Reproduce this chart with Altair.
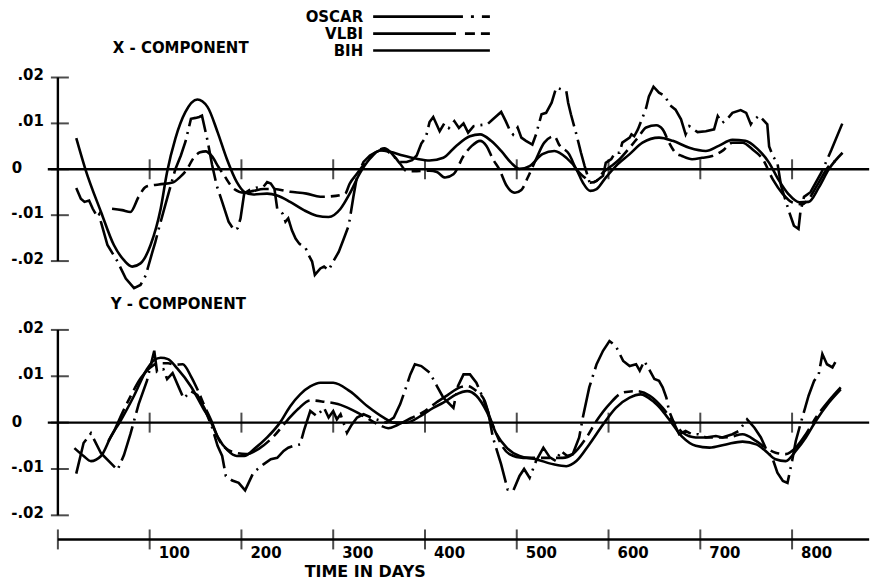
import altair as alt
import pandas as pd

# ---------------- data (day, value) ----------------
x_oscar = [(20, -0.0041), (25, -0.0064), (29, -0.0071), (34, -0.0068), (38, -0.0086), (43, -0.0104),
           (45, -0.0098), (47, -0.0115), (54, -0.0165), (65, -0.0201), (74, -0.0238), (83, -0.0259),
           (90, -0.0252), (96, -0.0230), (98, -0.0215), (103, -0.0180), (106, -0.0160), (110, -0.0129),
           (114, -0.0100), (117, -0.0078), (123, -0.0035), (128, 0.0000), (134, 0.0030), (139, 0.0060),
           (145, 0.0110), (150, 0.0112), (154, 0.0114), (157, 0.0117), (163, 0.0063), (168, 0.0010),
           (173, -0.0035), (179, -0.0071), (186, -0.0114), (192, -0.0133), (196, -0.0128), (199, -0.0107),
           (203, -0.0053), (209, -0.0045), (216, -0.0040), (224, -0.0038), (228, -0.0028), (232, -0.0031),
           (236, -0.0043), (239, -0.0086), (245, -0.0097), (248, -0.0114), (251, -0.0107), (255, -0.0133),
           (259, -0.0151), (263, -0.0162), (270, -0.0172), (273, -0.0186), (277, -0.0201), (280, -0.0230),
           (286, -0.0216), (290, -0.0212), (295, -0.0220), (300, -0.0201), (306, -0.0180), (311, -0.0154),
           (317, -0.0122), (322, -0.0060), (326, -0.0015), (333, 0.0016), (340, 0.0030), (347, 0.0038),
           (356, 0.0045), (365, 0.0030), (372, 0.0016), (380, 0.0016), (386, 0.0020), (391, 0.0030),
           (396, 0.0056), (401, 0.0070), (405, 0.0103), (409, 0.0114), (416, 0.0083), (421, 0.0100),
           (426, 0.0090), (432, 0.0105), (437, 0.0090), (442, 0.0100), (447, 0.0080), (453, 0.0094),
           (459, 0.0096), (468, 0.0098), (474, 0.0109), (478, 0.0116), (483, 0.0125), (488, 0.0105),
           (492, 0.0087), (496, 0.0076), (501, 0.0091), (505, 0.0069), (510, 0.0062), (517, 0.0054),
           (521, 0.0076), (527, 0.0120), (532, 0.0123), (538, 0.0145), (543, 0.0178), (549, 0.0174),
           (554, 0.0170), (556, 0.0145), (559, 0.0120), (565, 0.0076), (570, 0.0036), (574, 0.0007),
           (580, -0.0033), (587, -0.0025), (594, -0.0014), (597, 0.0014), (603, 0.0022), (607, 0.0036),
           (612, 0.0036), (615, 0.0058), (623, 0.0069), (625, 0.0076), (628, 0.0072), (632, 0.0087),
           (637, 0.0112), (641, 0.0134), (644, 0.0159), (649, 0.0180), (655, 0.0167), (662, 0.0159),
           (666, 0.0141), (673, 0.0130), (679, 0.0109), (684, 0.0076), (688, 0.0094), (697, 0.0081),
           (706, 0.0083), (715, 0.0087), (719, 0.0116), (724, 0.0101), (729, 0.0109), (735, 0.0123),
           (744, 0.0129), (750, 0.0123), (755, 0.0098), (757, 0.0105), (764, 0.0117), (773, 0.0098),
           (775, 0.0050), (779, 0.0029), (784, 0.0014), (788, -0.0036), (797, -0.0094), (802, -0.0123),
           (807, -0.0130), (809, -0.0094), (813, -0.0060), (820, -0.0050), (832, -0.0007), (843, 0.0043),
           (855, 0.0101)]

x_vlbi = [(59, -0.0086), (70, -0.0089), (79, -0.0093), (88, -0.0060), (96, -0.0038), (110, -0.0033),
          (125, -0.0029), (133, -0.0017), (140, -0.0002), (148, 0.0025), (155, 0.0037), (161, 0.0039),
          (168, 0.0028), (175, 0.0005), (181, -0.0013), (192, -0.0043), (203, -0.0051), (213, -0.0047),
          (224, -0.0043), (235, -0.0043), (253, -0.0049), (271, -0.0053), (286, -0.0060), (297, -0.0059),
          (313, -0.0053), (318, -0.0031), (325, -0.0012), (333, 0.0009), (347, 0.0038), (356, 0.0046),
          (367, 0.0027), (373, 0.0012), (380, -0.0004), (391, -0.0004), (405, -0.0003), (413, -0.0006),
          (422, -0.0018), (431, -0.0011), (442, 0.0029), (451, 0.0051), (460, 0.0062), (467, 0.0051),
          (474, 0.0022), (481, 0.0000), (489, -0.0036), (498, -0.0051), (505, -0.0045), (512, -0.0018),
          (521, 0.0022), (530, 0.0058), (541, 0.0072), (546, 0.0054), (557, 0.0033), (565, 0.0000),
          (574, -0.0018), (580, -0.0029), (587, -0.0025), (594, -0.0007), (603, 0.0007), (612, 0.0022),
          (623, 0.0047), (632, 0.0069), (641, 0.0091), (652, 0.0096), (659, 0.0087), (666, 0.0058),
          (673, 0.0036), (680, 0.0029), (691, 0.0022), (702, 0.0025), (713, 0.0029), (724, 0.0040),
          (735, 0.0058), (746, 0.0058), (757, 0.0043), (768, 0.0022), (779, -0.0022), (790, -0.0054),
          (800, -0.0072), (811, -0.0076), (818, -0.0065), (829, -0.0029), (840, 0.0007), (847, 0.0018)]

x_bih = [(20, 0.0068), (30, 0.0000), (47, -0.0093), (61, -0.0165), (72, -0.0198), (81, -0.0212),
         (90, -0.0205), (101, -0.0165), (112, -0.0086), (119, -0.0006), (128, 0.0067), (139, 0.0125),
         (152, 0.0152), (163, 0.0136), (174, 0.0081), (184, 0.0023), (195, -0.0028), (203, -0.0049),
         (213, -0.0055), (228, -0.0053), (239, -0.0057), (253, -0.0071), (268, -0.0089), (282, -0.0101),
         (295, -0.0104), (308, -0.0086), (318, -0.0053), (329, -0.0009), (340, 0.0023), (351, 0.0041),
         (362, 0.0038), (376, 0.0030), (391, 0.0023), (405, 0.0019), (420, 0.0025), (434, 0.0051),
         (449, 0.0072), (460, 0.0076), (472, 0.0062), (483, 0.0040), (494, 0.0014), (503, 0.0001),
         (514, 0.0007), (528, 0.0033), (541, 0.0040), (554, 0.0025), (565, 0.0000), (572, -0.0029),
         (580, -0.0047), (587, -0.0043), (597, -0.0018), (608, 0.0007), (623, 0.0033), (637, 0.0058),
         (655, 0.0069), (670, 0.0062), (688, 0.0047), (706, 0.0040), (720, 0.0051), (735, 0.0064),
         (749, 0.0062), (762, 0.0045), (775, 0.0014), (785, -0.0022), (796, -0.0054), (808, -0.0072),
         (818, -0.0071), (829, -0.0040), (840, 0.0000), (855, 0.0036)]

y_oscar = [(20, -0.0110), (28, -0.0044), (36, -0.0023), (47, -0.0066), (59, -0.0090), (65, -0.0102),
           (72, -0.0070), (79, -0.0025), (88, 0.0040), (97, 0.0090), (105, 0.0155), (108, 0.0110),
           (115, 0.0115), (119, 0.0094), (125, 0.0107), (132, 0.0075), (137, 0.0052), (145, 0.0068),
           (152, 0.0060), (160, 0.0030), (168, -0.0010), (174, -0.0050), (179, -0.0072), (183, -0.0115),
           (190, -0.0125), (197, -0.0130), (204, -0.0146), (213, -0.0108), (224, -0.0090), (232, -0.0079),
           (239, -0.0076), (246, -0.0061), (251, -0.0054), (257, -0.0050), (264, -0.0047), (268, -0.0018),
           (275, 0.0025), (282, 0.0014), (290, 0.0032), (295, 0.0011), (300, 0.0025), (304, 0.0007),
           (308, 0.0018), (315, -0.0022), (320, -0.0005), (326, 0.0011), (333, 0.0018), (340, 0.0012),
           (347, 0.0007), (358, 0.0000), (366, 0.0011), (373, 0.0040), (378, 0.0068), (384, 0.0104),
           (389, 0.0126), (396, 0.0122), (405, 0.0108), (413, 0.0079), (420, 0.0054), (431, 0.0032),
           (436, 0.0079), (442, 0.0104), (449, 0.0104), (456, 0.0086), (463, 0.0054), (469, 0.0022),
           (474, -0.0032), (483, -0.0090), (490, -0.0144), (496, -0.0148), (503, -0.0115), (508, -0.0100),
           (514, -0.0119), (521, -0.0083), (529, -0.0054), (536, -0.0075), (543, -0.0083), (548, -0.0061),
           (555, -0.0072), (561, -0.0068), (568, -0.0032), (572, 0.0011), (579, 0.0076), (587, 0.0126),
           (594, 0.0155), (601, 0.0176), (608, 0.0165), (616, 0.0133), (623, 0.0122), (630, 0.0126),
           (634, 0.0112), (639, 0.0133), (645, 0.0112), (650, 0.0094), (655, 0.0090), (659, 0.0076),
           (663, 0.0054), (666, 0.0025), (672, -0.0004), (677, -0.0025), (684, -0.0018), (691, -0.0025),
           (698, -0.0025), (706, -0.0032), (717, -0.0029), (724, -0.0032), (735, -0.0025), (742, -0.0018),
           (751, 0.0007), (759, -0.0011), (766, -0.0032), (771, -0.0054), (779, -0.0079), (784, -0.0108),
           (790, -0.0126), (795, -0.0130), (800, -0.0083), (804, -0.0040), (809, -0.0004), (818, 0.0058),
           (824, 0.0090), (829, 0.0104), (833, 0.0148), (838, 0.0126), (844, 0.0119), (849, 0.0137)]

y_vlbi = [(55, -0.0040), (62, -0.0015), (70, 0.0020), (80, 0.0060), (90, 0.0095), (100, 0.0118),
          (110, 0.0128), (120, 0.0128), (128, 0.0125), (136, 0.0126), (145, 0.0100), (152, 0.0072),
          (160, 0.0035), (167, 0.0005), (175, -0.0035), (190, -0.0063), (205, -0.0068), (220, -0.0055),
          (235, -0.0030), (250, 0.0005), (262, 0.0030), (275, 0.0048), (290, 0.0045), (305, 0.0040),
          (320, 0.0028), (335, 0.0012), (350, -0.0005), (360, -0.0012), (370, -0.0005), (385, 0.0010),
          (400, 0.0025), (412, 0.0043), (425, 0.0060), (438, 0.0076), (446, 0.0079), (456, 0.0068),
          (465, 0.0047), (470, 0.0015), (476, -0.0015), (482, -0.0043), (492, -0.0068), (507, -0.0076),
          (521, -0.0076), (536, -0.0076), (550, -0.0076), (561, -0.0068), (576, -0.0032), (587, 0.0004),
          (601, 0.0040), (616, 0.0065), (630, 0.0068), (645, 0.0058), (659, 0.0032), (670, 0.0004),
          (681, -0.0022), (695, -0.0032), (713, -0.0032), (732, -0.0031), (746, -0.0025), (761, -0.0040),
          (771, -0.0054), (782, -0.0065), (793, -0.0068), (804, -0.0054), (815, -0.0025), (826, 0.0011),
          (840, 0.0047), (853, 0.0076)]

y_bih = [(18, -0.0055), (28, -0.0072), (36, -0.0083), (47, -0.0072), (58, -0.0029), (68, 0.0003),
         (83, 0.0058), (97, 0.0115), (105, 0.0135), (112, 0.0140), (120, 0.0137), (130, 0.0117),
         (145, 0.0078), (158, 0.0032), (166, 0.0005), (174, -0.0030), (185, -0.0060), (195, -0.0072),
         (203, -0.0072), (215, -0.0055), (228, -0.0032), (242, 0.0000), (253, 0.0035), (264, 0.0061),
         (275, 0.0078), (286, 0.0086), (300, 0.0086), (318, 0.0068), (337, 0.0036), (355, 0.0011),
         (366, 0.0000), (380, 0.0000), (395, 0.0014), (409, 0.0032), (420, 0.0043), (434, 0.0061),
         (446, 0.0068), (456, 0.0058), (467, 0.0025), (478, -0.0025), (489, -0.0054), (503, -0.0072),
         (521, -0.0079), (540, -0.0090), (554, -0.0094), (565, -0.0083), (579, -0.0047), (594, -0.0004),
         (608, 0.0032), (623, 0.0054), (635, 0.0061), (648, 0.0047), (659, 0.0025), (670, -0.0004),
         (681, -0.0032), (695, -0.0050), (710, -0.0054), (728, -0.0047), (746, -0.0041), (761, -0.0047),
         (771, -0.0061), (782, -0.0079), (793, -0.0083), (804, -0.0061), (815, -0.0032), (826, 0.0004),
         (840, 0.0043), (853, 0.0072)]

tick_days = [100, 200, 300, 400, 500, 600, 700, 800]
axis_days = [0, 100, 200, 300, 400, 500, 600, 700, 800]
axis_labels = ["", "100", "200", "300", "400", "500", "600", "700", "800"]
ytick_vals = [0.02, 0.01, 0.0, -0.01, -0.02]
ytick_text = [".02", ".01", "0", "-.01", "-.02"]
legend_names = ["OSCAR", "VLBI", "BIH"]

# ---------------- layout constants ----------------
X_DOMAIN = [0, 886]
LINE_END = 884
TOP_DOMAIN = [-0.02, 0.02]
BOT_DOMAIN = [-0.0252, 0.02]
W = 815
TOP_H = 184
BOT_H = 210
FONT = "DejaVu Sans"
OSCAR_DASH = [36, 6, 2, 6]
VLBI_DASH = [36, 6, 9, 6]
LW = 2.6
AW = 2.4


def xs(field="day"):
    return alt.X(f"{field}:Q", scale=alt.Scale(domain=X_DOMAIN, nice=False, zero=False), axis=None)


def ys(domain, field="value"):
    return alt.Y(f"{field}:Q", scale=alt.Scale(domain=domain, nice=False, zero=False), axis=None)


def curve(pairs, domain, dash=None, interp="linear"):
    df = pd.DataFrame(pairs, columns=["day", "value"])
    kw = dict(color="black", strokeWidth=LW, interpolate=interp)
    if dash:
        kw["strokeDash"] = dash
    return alt.Chart(df).mark_line(**kw).encode(x=xs(), y=ys(domain))


def txt(s, x, y, align="left", size=15):
    return alt.Chart(pd.DataFrame({"t": [s]})).mark_text(
        align=align, baseline="middle", font=FONT, fontSize=size, fontWeight="bold", color="black"
    ).encode(x=alt.value(x), y=alt.value(y), text="t:N")


def frame(domain):
    zero_df = pd.DataFrame({"start": [-11], "end": [LINE_END], "value": [0.0]})
    zero = alt.Chart(zero_df).mark_rule(color="black", strokeWidth=AW).encode(
        x=xs("start"), x2="end:Q", y=ys(domain))
    yax_df = pd.DataFrame({"day": [0], "lo": [-0.02], "hi": [0.02]})
    yax = alt.Chart(yax_df).mark_rule(color="black", strokeWidth=AW).encode(
        x=xs(), y=ys(domain, "lo"), y2="hi:Q")
    yt_df = pd.DataFrame({"day": [0] * len(ytick_vals), "value": ytick_vals, "label": ytick_text})
    yticks = alt.Chart(yt_df).mark_tick(orient="horizontal", size=18, thickness=2, color="black",
                                        xOffset=2).encode(x=xs(), y=ys(domain))
    ylab = alt.Chart(yt_df).transform_filter("datum.value != 0").mark_text(
        align="right", baseline="middle", dx=-14, dy=-2, font=FONT, fontSize=15, fontWeight="bold",
        color="black").encode(x=xs(), y=ys(domain), text="label:N")
    ylab0 = alt.Chart(yt_df).transform_filter("datum.value == 0").mark_text(
        align="center", baseline="middle", dx=-41, dy=-1, font=FONT, fontSize=15, fontWeight="bold",
        color="black").encode(x=xs(), y=ys(domain), text="label:N")
    zt_df = pd.DataFrame({"day": tick_days, "value": [0.0] * len(tick_days)})
    zticks = alt.Chart(zt_df).mark_tick(orient="vertical", size=20, thickness=2, color="black").encode(
        x=xs(), y=ys(domain))
    return [zero, yax, yticks, ylab, ylab0, zticks]


# ---------------- top panel (X component) ----------------
anchor = alt.Chart(pd.DataFrame({"t": [""]})).mark_rule(color="white", strokeWidth=1).encode(
    x=alt.value(-49), x2=alt.value(-48), y=alt.value(-67))

legend_layers = []
legend_y = [-61, -44, -27]
legend_dash = [[90, 8, 3, 8], [83, 9, 10, 6], None]
for name, ly, dash in zip(legend_names, legend_y, legend_dash):
    legend_layers.append(txt(name, 306, ly, align="right"))
    kw = dict(color="black", strokeWidth=LW)
    if dash:
        kw["strokeDash"] = dash
    legend_layers.append(alt.Chart(pd.DataFrame({"t": [name]})).mark_rule(**kw).encode(
        x=alt.value(316), x2=alt.value(433), y=alt.value(ly)))

top = alt.layer(
    anchor,
    *legend_layers,
    txt("X - COMPONENT", 55, -30),
    *frame(TOP_DOMAIN),
    curve(x_oscar, TOP_DOMAIN, OSCAR_DASH),
    curve(x_vlbi, TOP_DOMAIN, VLBI_DASH, "monotone"),
    curve(x_bih, TOP_DOMAIN, None, "monotone"),
).properties(width=W, height=TOP_H)

# ---------------- bottom panel (Y component) ----------------
tax_df = pd.DataFrame({"start": [0], "end": [LINE_END], "value": [BOT_DOMAIN[0]]})
taxis = alt.Chart(tax_df).mark_rule(color="black", strokeWidth=AW).encode(
    x=xs("start"), x2="end:Q", y=ys(BOT_DOMAIN))
tt_df = pd.DataFrame({"day": axis_days, "value": [BOT_DOMAIN[0]] * len(axis_days), "label": axis_labels})
tticks = alt.Chart(tt_df).mark_tick(orient="vertical", size=20, thickness=2, color="black").encode(
    x=xs(), y=ys(BOT_DOMAIN))
tlabels = alt.Chart(tt_df).mark_text(align="left", baseline="top", dx=9, dy=7, font=FONT, fontSize=15,
                                     fontWeight="bold", color="black").encode(
    x=xs(), y=ys(BOT_DOMAIN), text="label:N")

bottom = alt.layer(
    txt("Y - COMPONENT", 53, -26),
    *frame(BOT_DOMAIN),
    taxis, tticks, tlabels,
    txt("TIME IN DAYS", 308, 243, align="center", size=16),
    curve(y_oscar, BOT_DOMAIN, OSCAR_DASH),
    curve(y_vlbi, BOT_DOMAIN, VLBI_DASH, "monotone"),
    curve(y_bih, BOT_DOMAIN, None, "monotone"),
).properties(width=W, height=BOT_H)

chart = alt.vconcat(top, bottom, spacing=69, bounds="flush").properties(
    padding=0, background="white"
).configure_view(stroke="transparent")

chart.save("out.html", embed_options={"renderer": "svg", "actions": False})
